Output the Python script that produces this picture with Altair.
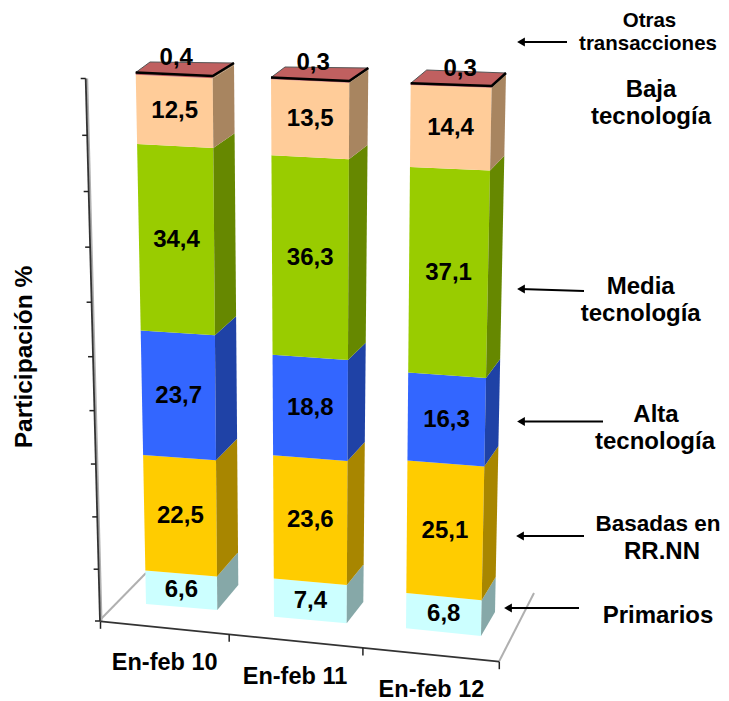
import altair as alt
import pandas as pd

# ---- values ----
periods = ["En-feb 10", "En-feb 11", "En-feb 12"]
primarios = [6.6, 7.4, 6.8]
basadas = [22.5, 23.6, 25.1]
alta = [23.7, 18.8, 16.3]
media = [34.4, 36.3, 37.1]
baja = [12.5, 13.5, 14.4]
otras = [0.4, 0.3, 0.3]
series_names = ["Primarios", "Basadas en RR.NN", "Alta tecnología", "Media tecnología", "Baja tecnología", "Otras"]
series = [primarios, basadas, alta, media, baja, otras]
axis_ticks = [0, 10, 20, 30, 40, 50, 60, 70, 80, 90, 100]

# ---- styles ----
front_colors = ["#CCFFFF", "#FFCC00", "#3366FF", "#99CC00", "#FFCC99", "#C06060"]
side_colors = ["#86A8A8", "#A88600", "#1F42A6", "#668800", "#A88560", "#A88560"]
FONT = "Liberation Sans"

# ---- oblique view: where value 0 and value 100 of each bar edge land ----
PERSP = 0.05
VIEW = [
    {"fl": ((146, 604), (135.7, 72.5)), "fr": ((217.3, 610), (212.7, 76)), "br": ((238.3, 585), (234, 63)), "bl": (150, 62), "tdx": 2},
    {"fl": ((274, 616.7), (271, 77.5)), "fr": ((346.7, 623.3), (349.3, 81)), "br": ((363.3, 602), (368.3, 68)), "bl": (285, 67), "tdx": 3},
    {"fl": ((406, 628.3), (410.7, 83.3)), "fr": ((481, 636), (491.7, 86)), "br": ((495, 612), (506, 73)), "bl": (426.7, 70), "tdx": 9},
]


def t(v):
    f = min(v, 100) / 100
    return f * (1 - PERSP) / (1 - PERSP * f)


def along(edge, v):
    (x0, y0), (x1, y1) = edge
    s = t(v)
    return x0 + (x1 - x0) * s, y0 + (y1 - y0) * s


faces, labels = [], []
outline, top_edge = [], []


def add_face(name, key, points):
    for i, (x, y) in enumerate(points + points[:1]):
        faces.append({"face": name, "key": key, "i": i, "x": x, "y": y})


for b, view in enumerate(VIEW):
    lo = 0.0
    total = sum(s[b] for s in series)
    for k, s in enumerate(series):
        hi = lo + s[b] * 100 / total
        add_face(f"{b}-{k}-f", f"f{k}", [along(view["fl"], lo), along(view["fr"], lo), along(view["fr"], hi), along(view["fl"], hi)])
        add_face(f"{b}-{k}-s", f"s{k}", [along(view["fr"], lo), along(view["br"], lo), along(view["br"], hi), along(view["fr"], hi)])
        mid = (lo + hi) / 2
        lx, ly = along(view["fl"], mid)
        rx, ry = along(view["fr"], mid)
        if k < len(series) - 1:
            labels.append({"x": (lx + rx) / 2, "y": (ly + ry) / 2, "text": f"{s[b]:.1f}".replace(".", ",")})
        else:
            labels.append({"x": (lx + rx) / 2 + view["tdx"], "y": (ly + ry) / 2 - 17, "text": f"{s[b]:.1f}".replace(".", ",")})
        lo = hi
    tl, tr, tb, bl = view["fl"][1], view["fr"][1], view["br"][1], view["bl"]
    add_face(f"{b}-top", "f5", [tl, tr, tb, bl])
    for i, p in enumerate([tb, bl, tl]):
        outline.append({"g": f"o{b}", "i": i, "x": p[0], "y": p[1]})
    for i, p in enumerate([tl, tr, tb]):
        top_edge.append({"g": f"e{b}", "i": i, "x": p[0], "y": p[1]})

# ---- axes frame ----
AX_V = ((100, 621), (85.7, 78.5))
AX_H = ((100.5, 621.3), (499.3, 661.7))
BASE_FRAC = [0.0, 0.3227, 0.658, 1.0]
TICK = 5
TICK_H = 7.5
dark, ticks, grey, arrows, tips = [], [], [], [], []


def seg(store, name, a, b):
    store.append({"g": name, "i": 0, "x": a[0], "y": a[1]})
    store.append({"g": name, "i": 1, "x": b[0], "y": b[1]})


seg(dark, "v", *AX_V)
seg(dark, "h", *AX_H)
seg(grey, "shadow-v", (AX_V[0][0] + 1.5, AX_V[0][1]), (AX_V[1][0] + 1.5, AX_V[1][1]))
seg(grey, "floor-l", (100, 620), (146, 573))
seg(grey, "floor-r", (499.3, 661), (534, 593))
for v in axis_ticks:
    p = along(AX_V, v)
    seg(ticks, f"y{v}", (p[0] - TICK, p[1]), p)
for j, f in enumerate(BASE_FRAC):
    x = AX_H[0][0] + (AX_H[1][0] - AX_H[0][0]) * f
    y = AX_H[0][1] + (AX_H[1][1] - AX_H[0][1]) * f
    seg(ticks, f"x{j}", (x, y), (x, y + TICK_H))

ARROWS = [((516, 42), (567, 42)), ((516, 289), (584, 291)), ((516, 421.5), (603, 421.5)),
          ((515, 536), (584, 536)), ((503, 608), (579, 608))]
for j, (tip, tail) in enumerate(ARROWS):
    seg(arrows, f"a{j}", (tip[0] + 4, tip[1]), tail)
    tips.append({"x": tip[0] + 5, "y": tip[1]})

cat_labels = [
    {"x": 164.7, "y": 663, "text": periods[0]},
    {"x": 295, "y": 677, "text": periods[1]},
    {"x": 431.5, "y": 690, "text": periods[2]},
]
side_labels = [
    {"x": 651, "y": 90, "text": "Baja"}, {"x": 651, "y": 117, "text": "tecnología"},
    {"x": 640.7, "y": 287, "text": "Media"}, {"x": 640.7, "y": 314, "text": "tecnología"},
    {"x": 656, "y": 415, "text": "Alta"}, {"x": 655, "y": 442, "text": "tecnología"},
    {"x": 662, "y": 552, "text": "RR.NN"},
    {"x": 658, "y": 616, "text": "Primarios"},
]
basadas_label = [{"x": 658, "y": 524, "text": "Basadas en"}]
small_labels = [{"x": 649.5, "y": 21, "text": "Otras"}, {"x": 648, "y": 44, "text": "transacciones"}]
title_label = [{"x": 25, "y": 357, "text": "Participación %"}]

# plot area spans the page's content width and reaches the lowest label
X = alt.X("x:Q", scale=alt.Scale(domain=[8, 721], nice=False, zero=False), axis=None)
Y = alt.Y("y:Q", scale=alt.Scale(domain=[703, 8], nice=False, zero=False), axis=None)


def lines(rows, color, width):
    return alt.Chart(pd.DataFrame(rows)).mark_line(color=color, strokeWidth=width, clip=False).encode(
        x=X, y=Y, detail="g:N", order="i:Q")


def texts(rows, size, **kw):
    return alt.Chart(pd.DataFrame(rows)).mark_text(
        font=FONT, fontWeight="bold", fontSize=size, color="black", baseline="middle", align="center", clip=False, **kw
    ).encode(x=X, y=Y, text="text:N")


keys = [f"f{k}" for k in range(6)] + [f"s{k}" for k in range(6)]
face_layer = alt.Chart(pd.DataFrame(faces)).mark_line(filled=True, strokeWidth=0, clip=False).encode(
    x=X, y=Y, detail="face:N", order="i:Q",
    color=alt.Color("key:N", scale=alt.Scale(domain=keys, range=front_colors + side_colors), legend=None),
)
tips_layer = alt.Chart(pd.DataFrame(tips)).mark_point(
    shape="triangle-left", filled=True, color="black", size=80, opacity=1, clip=False
).encode(x=X, y=Y)

chart = alt.layer(
    lines(grey, "#B0B0B0", 2),
    lines(dark, "#333333", 1.8),
    lines(ticks, "#222222", 1.5),
    face_layer,
    lines(outline, "#555555", 1),
    lines(top_edge, "black", 2.5),
    lines(arrows, "black", 1.8),
    tips_layer,
    texts(labels, 24),
    texts(cat_labels, 23.5),
    texts(side_labels, 24),
    texts(basadas_label, 22.5),
    texts(small_labels, 20.5),
    texts(title_label, 24.5, angle=270),
).properties(
    width=713, height=695, padding=0, autosize=alt.AutoSizeParams(type="none"), background="white"
).configure_view(stroke=None)

chart.save("out.html", embed_options={"renderer": "svg", "actions": False})
